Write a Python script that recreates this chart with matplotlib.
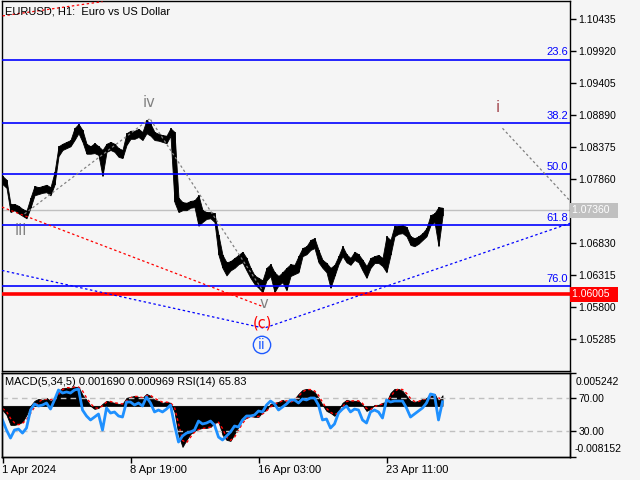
import numpy as np
import matplotlib.pyplot as plt

plt.rcParams['font.family'] = ['Liberation Sans', 'DejaVu Sans']

# ====== data (one sample every 4 hourly bars) ======
step = 4
hi = [1.0791, 1.0785, 1.0746, 1.0746, 1.0743, 1.0738, 1.0735, 1.0756, 1.0775, 1.0773,
      1.0775, 1.0777, 1.0773, 1.0797, 1.0839, 1.0843, 1.0846, 1.0849, 1.0868, 1.0875,
      1.0865, 1.0843, 1.0839, 1.0844, 1.0839, 1.0833, 1.0843, 1.0846, 1.0843, 1.0836,
      1.0833, 1.0860, 1.0864, 1.0864, 1.0867, 1.0862, 1.0881, 1.0875, 1.0862, 1.0859,
      1.0857, 1.0856, 1.0868, 1.0862, 1.0756, 1.0749, 1.0748, 1.0751, 1.0752, 1.0760,
      1.0736, 1.0733, 1.0733, 1.0731, 1.0696, 1.0664, 1.0652, 1.0654, 1.0659, 1.0664,
      1.0669, 1.0659, 1.0643, 1.0631, 1.0627, 1.0623, 1.0643, 1.0649, 1.0636, 1.0630,
      1.0636, 1.0643, 1.0649, 1.0648, 1.0662, 1.0675, 1.0678, 1.0688, 1.0691, 1.0672,
      1.0656, 1.0651, 1.0643, 1.0648, 1.0662, 1.0678, 1.0665, 1.0659, 1.0669, 1.0665,
      1.0656, 1.0646, 1.0659, 1.0662, 1.0664, 1.0659, 1.0694, 1.0688, 1.0711, 1.0711,
      1.0712, 1.0709, 1.0694, 1.0691, 1.0694, 1.0699, 1.0707, 1.0728, 1.0731, 1.0741,
      1.0740]
lo = [1.0778, 1.0772, 1.0733, 1.0736, 1.0731, 1.0727, 1.0723, 1.0740, 1.0760, 1.0762,
      1.0764, 1.0765, 1.0760, 1.0777, 1.0823, 1.0833, 1.0836, 1.0839, 1.0849, 1.0860,
      1.0846, 1.0827, 1.0827, 1.0828, 1.0825, 1.0791, 1.0830, 1.0833, 1.0830, 1.0822,
      1.0820, 1.0841, 1.0851, 1.0851, 1.0854, 1.0849, 1.0860, 1.0856, 1.0849, 1.0848,
      1.0846, 1.0844, 1.0856, 1.0749, 1.0733, 1.0736, 1.0736, 1.0740, 1.0741, 1.0711,
      1.0717, 1.0722, 1.0723, 1.0717, 1.0664, 1.0643, 1.0631, 1.0639, 1.0643, 1.0649,
      1.0652, 1.0639, 1.0627, 1.0617, 1.0611, 1.0604, 1.0623, 1.0630, 1.0604, 1.0615,
      1.0620, 1.0607, 1.0630, 1.0633, 1.0636, 1.0662, 1.0665, 1.0672, 1.0675, 1.0652,
      1.0643, 1.0636, 1.0611, 1.0630, 1.0649, 1.0662, 1.0652, 1.0648, 1.0656, 1.0652,
      1.0639, 1.0627, 1.0643, 1.0651, 1.0651, 1.0646, 1.0636, 1.0664, 1.0694, 1.0698,
      1.0699, 1.0694, 1.0680, 1.0678, 1.0682, 1.0688, 1.0694, 1.0712, 1.0717, 1.0678,
      1.0727]
macd = [-0.00064, -0.00144, -0.00303, -0.00303, -0.00287, -0.00255, -0.00144, 0.0, 0.0008, 0.00112,
        0.00096, 0.00128, 0.0008, 0.00112, 0.00239, 0.00287, 0.00287, 0.00287, 0.00303, 0.00303,
        0.00175, 0.00096, 0.0, -0.00048, -0.00032, 0.00032, 0.0008, 0.00064, 0.00048, 0.00032,
        0.00032, 0.00128, 0.00144, 0.00159, 0.00144, 0.00128, 0.00191, 0.00159, 0.00096, 0.0008,
        0.00048, 0.00064, 0.00048, -0.00096, -0.00462, -0.00654, -0.00542, -0.00446, -0.00399, -0.00367,
        -0.00351, -0.00351, -0.00335, -0.00271, -0.00255, -0.00462, -0.00542, -0.00558, -0.00446, -0.00335,
        -0.00223, -0.00191, -0.00159, -0.00175, -0.00175, -0.00096, -0.00064, 0.00032, 0.00048, 0.00064,
        0.00096, 0.00064, 0.00064, 0.00112, 0.00191, 0.00255, 0.00271, 0.00255, 0.00223, 0.00128,
        0.00016, -0.0008, -0.00112, -0.00159, -0.00064, 0.00048, 0.00096, 0.0008, 0.0008, 0.0008,
        0.00016, -0.0008, -0.00048, 0.00016, 0.00016, 0.00048, 0.00064, 0.00207, 0.00271, 0.00271,
        0.00239, 0.00159, 0.0008, 0.00064, 0.0008, 0.00112, 0.00128, 0.00159, 0.00191, 0.0008,
        0.00169]
signal = [-0.0004, -0.0009, -0.0020, -0.0027, -0.0030, -0.0028, -0.0022, -0.0012, -0.0002, 0.0006,
          0.0010, 0.0011, 0.0010, 0.0010, 0.0018, 0.0026, 0.0029, 0.0029, 0.0030, 0.0030,
          0.0024, 0.0013, 0.0004, -0.0003, -0.0004, 0.0000, 0.0006, 0.0007, 0.0005, 0.0004,
          0.0003, 0.0008, 0.0013, 0.0015, 0.0015, 0.0013, 0.0016, 0.0017, 0.0012, 0.0009,
          0.0006, 0.0006, 0.0005, -0.0002, -0.0028, -0.0055, -0.0059, -0.0050, -0.0042, -0.0038,
          -0.0036, -0.0035, -0.0034, -0.0030, -0.0026, -0.0036, -0.0050, -0.0055, -0.0050, -0.0039,
          -0.0028, -0.0020, -0.0017, -0.0017, -0.0017, -0.0013, -0.0008, -0.0002, 0.0003, 0.0005,
          0.0008, 0.0008, 0.0006, 0.0009, 0.0015, 0.0022, 0.0026, 0.0026, 0.0024, 0.0017,
          0.0006, -0.0004, -0.0010, -0.0014, -0.0011, -0.0002, 0.0007, 0.0008, 0.0008, 0.0008,
          0.0004, -0.0004, -0.0006, -0.0001, 0.0001, 0.0003, 0.0005, 0.0014, 0.0023, 0.0027,
          0.0026, 0.0020, 0.0012, 0.0007, 0.0007, 0.0010, 0.0012, 0.0014, 0.0017, 0.0013,
          0.00097]
rsi = [43.5, 31.2, 21.4, 31.2, 32.4, 27.5, 33.7, 55.7, 63.1, 60.6,
       61.8, 64.3, 56.9, 68.0, 80.2, 76.5, 77.8, 76.5, 80.2, 81.4,
       55.7, 48.4, 43.5, 47.1, 50.8, 31.2, 58.2, 52.0, 53.3, 48.4,
       47.1, 65.5, 65.5, 61.8, 64.3, 60.6, 71.6, 64.3, 53.3, 55.7,
       53.3, 56.9, 61.8, 37.3, 16.5, 23.9, 27.5, 28.8, 31.2, 42.2,
       38.6, 39.8, 42.2, 37.3, 22.6, 19.0, 23.9, 28.8, 36.1, 34.9,
       43.5, 48.4, 48.4, 49.6, 54.5, 53.3, 61.8, 66.7, 63.1, 55.7,
       59.4, 63.1, 68.0, 68.0, 64.3, 69.2, 68.0, 70.4, 70.4, 61.8,
       43.5, 44.7, 33.7, 38.6, 52.0, 56.9, 60.6, 53.3, 56.9, 55.7,
       43.5, 39.8, 53.3, 55.7, 53.3, 45.9, 68.0, 65.5, 66.7, 66.7,
       66.7, 58.2, 47.1, 50.8, 54.5, 58.2, 64.3, 75.3, 74.1, 43.5,
       65.83]
bars = np.arange(len(hi)) * step

fib_top, fib_bottom = 1.1143, 1.0446
fib_levels = [23.6, 38.2, 50.0, 61.8, 76.0]
bid = 1.07360
support = 1.06005

price_ticks = [1.10435, 1.09920, 1.09405, 1.08890, 1.08375, 1.07860,
               1.07345, 1.06830, 1.06315, 1.05800, 1.05285]
time_ticks = [0, 128, 256, 384]
time_labels = ['1 Apr 2024', '8 Apr 19:00', '16 Apr 03:00', '23 Apr 11:00']

# wave lines: (bars, prices)
gray_iii_iv = ([22, 147], [1.0730, 1.0883])
gray_iv_v = ([148, 260], [1.0882, 1.0607])
gray_i = ([500, 567], [1.0868, 1.0752])
red_line = ([-0.5, 260], [1.0741, 1.0581])
red_top = ([0, 100], [1.1049, 1.1072])
blue_line = ([-0.5, 261.5, 567.5], [1.0639, 1.0546, 1.0715])

# wave labels: text, bar, price, colour
wave_labels = [('iii', 18.5, 1.0704, '#808080'),
               ('iv', 146.5, 1.0909, '#808080'),
               ('v', 261.5, 1.0585, '#808080'),
               ('(c)', 259.5, 1.0554, '#ff0000'),
               ('i', 495.5, 1.0902, '#a04048')]
ii_label = ('ii', 259.5, 1.0519, '#1e5aff')

# ====== figure ======
BG = '#f5f5f5'
fig = plt.figure(figsize=(6.4, 4.8), dpi=100, facecolor=BG)


def box(l, t, r, b):
    return fig.add_axes([l / 640, 1 - b / 480, (r - l) / 640, (b - t) / 480])


ax = box(2, 1, 570, 371)
ax.set_facecolor(BG)
ax.set_xlim(-0.5, 567.5)
ax.set_ylim(1.04770, 1.10730)

# hourly bars: band between the highs and lows
ax.fill_between(bars, lo, hi, color='black', lw=0.6, zorder=2)
ax.vlines(bars, lo, hi, color='black', lw=1.2, zorder=2)

for lvl in fib_levels:
    p = fib_top - (fib_top - fib_bottom) * lvl / 100
    ax.axhline(p, color='#0000ff', lw=1.2, zorder=3)
    ax.text(0.997, p + 0.00035, f'{lvl:.1f}', transform=ax.get_yaxis_transform(),
            color='#0000ff', ha='right', va='bottom', fontsize=8)

ax.axhline(bid, color='#c0c0c0', lw=1, zorder=1)
ax.axhline(support, color='#ff0000', lw=2.6, zorder=3)

dot = (0, (2, 2))
for xs, ys in (gray_iii_iv, gray_iv_v, gray_i):
    ax.plot(xs, ys, color='#808080', lw=0.9, ls=dot, zorder=4)
for xs, ys in (red_line, red_top):
    ax.plot(xs, ys, color='#ff0000', lw=0.9, ls=dot, zorder=4)
ax.plot(*blue_line, color='#0000ff', lw=0.9, ls=dot, zorder=4)

for txt, bx, py, col in wave_labels:
    ax.text(bx, py, txt, color=col, fontsize=10.5, ha='center', va='center',
            family='DejaVu Sans', zorder=5)
txt, bx, py, col = ii_label
ax.text(bx, py, txt, color=col, fontsize=10, ha='center', va='center', family='DejaVu Sans',
        bbox=dict(boxstyle='circle,pad=0.12', fc='none', ec=col, lw=1), zorder=5)

ax.yaxis.tick_right()
ax.set_yticks(price_ticks, ['' if abs(t - 1.07345) < 1e-6 else f'{t:.5f}' for t in price_ticks])
ax.tick_params(axis='y', direction='out', length=4, width=1, pad=2, labelsize=7.5)
ax.set_xticks([])
for s in ax.spines.values():
    s.set_color('black')
    s.set_linewidth(1)

ax.text(1.004, bid, '1.07360  ', transform=ax.get_yaxis_transform(), ha='left', va='center',
        fontsize=7.5, color='white', bbox=dict(boxstyle='square,pad=0.25', fc='#c0c0c0', ec='none'))
ax.text(1.004, support, '1.06005  ', transform=ax.get_yaxis_transform(), ha='left', va='center',
        fontsize=7.5, color='white', bbox=dict(boxstyle='square,pad=0.25', fc='#ff0000', ec='none'))

fig.text(5 / 640, 1 - 12 / 480, 'EURUSD, H1:  Euro vs US Dollar', fontsize=8, va='center')

# ====== MACD + RSI window ======
ax2 = box(2, 373, 570, 457)
ax2.set_facecolor(BG)
ax2.set_xlim(-0.5, 567.5)
ax2.set_ylim(-0.008152, 0.005242)
ax2.fill_between(bars, 0, macd, color='black', lw=0.6)
ax2.plot(bars, signal, color='#ff0000', lw=1, ls=dot)
ax2.set_yticks([])

ax3 = ax2.twinx()
ax3.set_xlim(-0.5, 567.5)
ax3.set_ylim(-1.8, 101)
ax3.axhline(70, color='#c0c0c0', lw=1, ls=(0, (4, 3)))
ax3.axhline(30, color='#c0c0c0', lw=1, ls=(0, (4, 3)))
ax3.plot(bars, rsi, color='#1e90ff', lw=2)
ax3.set_yticks([-1.8, 30, 70, 101], ['', '30.00', '70.00', ''])
ax3.tick_params(axis='y', direction='out', length=4, width=1, pad=2, labelsize=7.5)
for a in (ax2, ax3):
    for s in a.spines.values():
        s.set_color('black')
        s.set_linewidth(1)

ax2.set_xticks(time_ticks, time_labels)
ax2.tick_params(axis='x', direction='out', length=4, width=1, pad=2, labelsize=8)
for lab in ax2.get_xticklabels():
    lab.set_ha('left')

fig.text(576 / 640, 1 - 382 / 480, '0.005242', fontsize=7.5, va='center')
fig.text(575 / 640, 1 - 449 / 480, '-0.008152', fontsize=7.5, va='center')
fig.text(5 / 640, 1 - 382 / 480, 'MACD(5,34,5) 0.001690 0.000969 RSI(14) 65.83', fontsize=8, va='center')

fig.savefig('out.png', dpi=100, facecolor=BG)
